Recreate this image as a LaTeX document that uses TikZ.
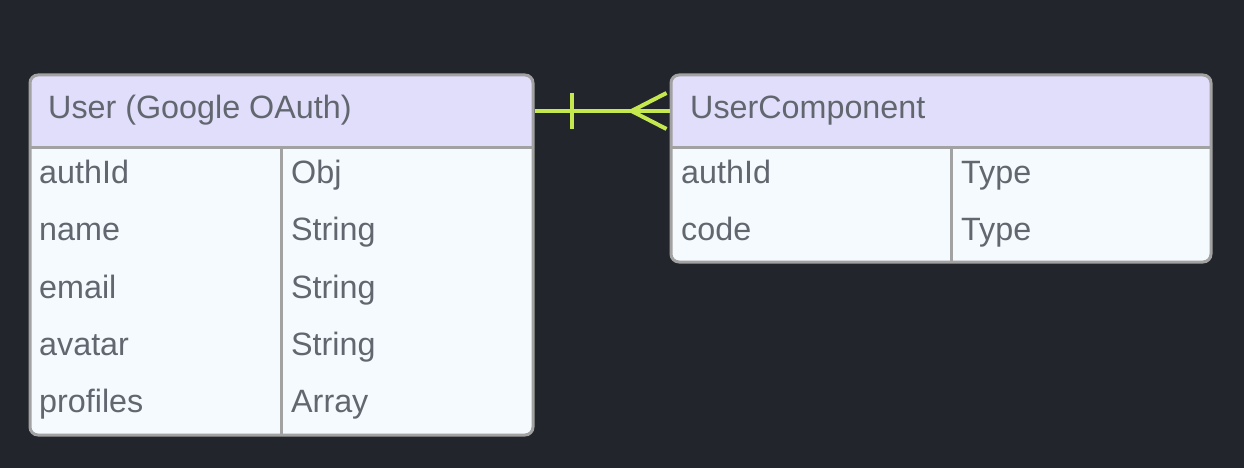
\documentclass[tikz,border=0pt]{standalone}
\usepackage{fontspec}
\setmainfont{Liberation Sans}
\definecolor{bg}{HTML}{22252B}
\definecolor{hdr}{HTML}{E0DEFA}
\definecolor{bodyc}{HTML}{F5FAFE}
\definecolor{bord}{HTML}{A2A2A2}
\definecolor{txt}{HTML}{62666F}
\definecolor{rel}{HTML}{C5E84F}
\begin{document}
\begin{tikzpicture}[x=1pt,y=-1pt,
  ent/.style={draw=bord,line width=3pt,rounded corners=8pt,inner sep=0pt},
  sep/.style={draw=bord,line width=3pt},
  lbl/.style={text=txt,font=\fontsize{32.3}{38}\selectfont,anchor=base west,inner sep=0pt},
  relline/.style={draw=rel,line width=4pt}]
\fill[bg] (0,0) rectangle (1244,468);
\useasboundingbox (0,0) rectangle (1244,468);
% User box
\fill[bodyc,rounded corners=8pt] (30,75) rectangle (533,435);
\fill[hdr,rounded corners=8pt] (30,147) -- (30,75) -- (533,75) -- (533,147) [sharp corners] -- cycle;
\fill[hdr] (30,120) rectangle (533,147);
\draw[sep] (30,147) -- (533,147);
\draw[sep] (281,147) -- (281,435);
\node[ent,minimum width=503pt,minimum height=360pt] (user) at (281.5,255) {};
\node[lbl] (uh) at (48,119) {User (Google OAuth)};
\node[lbl] (u1) at (39,183.3) {authId};
\node[lbl] (u1t) at (291,183.3) {Obj};
\node[lbl] (u2) at (39,240.7) {name};
\node[lbl] (u2t) at (291,240.7) {String};
\node[lbl] (u3) at (39,298.1) {email};
\node[lbl] (u3t) at (291,298.1) {String};
\node[lbl] (u4) at (39,355.5) {avatar};
\node[lbl] (u4t) at (291,355.5) {String};
\node[lbl] (u5) at (39,412.9) {profiles};
\node[lbl] (u5t) at (291,412.9) {Array};
% UserComponent box
\fill[bodyc,rounded corners=8pt] (671,75) rectangle (1211,262);
\fill[hdr,rounded corners=8pt] (671,147) -- (671,75) -- (1211,75) -- (1211,147) [sharp corners] -- cycle;
\fill[hdr] (671,120) rectangle (1211,147);
\draw[sep] (671,147) -- (1211,147);
\draw[sep] (951,147) -- (951,262);
\node[ent,minimum width=540pt,minimum height=187pt] (comp) at (941,168.5) {};
\node[lbl] (ch) at (690,119) {UserComponent};
\node[lbl] (c1) at (681,183.3) {authId};
\node[lbl] (c1t) at (961,183.3) {Type};
\node[lbl] (c2) at (681,240.7) {code};
\node[lbl] (c2t) at (961,240.7) {Type};
% relation
\coordinate (ra) at (user.north east |- 0,111);
\coordinate (rb) at (comp.north west |- 0,111);
\draw[relline] (ra) -- (rb);
\draw[relline] ([xshift=37pt]ra) ++(0,-18) -- ++(0,36);
\draw[relline] ([xshift=-38pt]rb) -- ([xshift=-3pt,yshift=-18pt]rb);
\draw[relline] ([xshift=-38pt]rb) -- ([xshift=-3pt,yshift=18pt]rb);
\end{tikzpicture}
\end{document}
